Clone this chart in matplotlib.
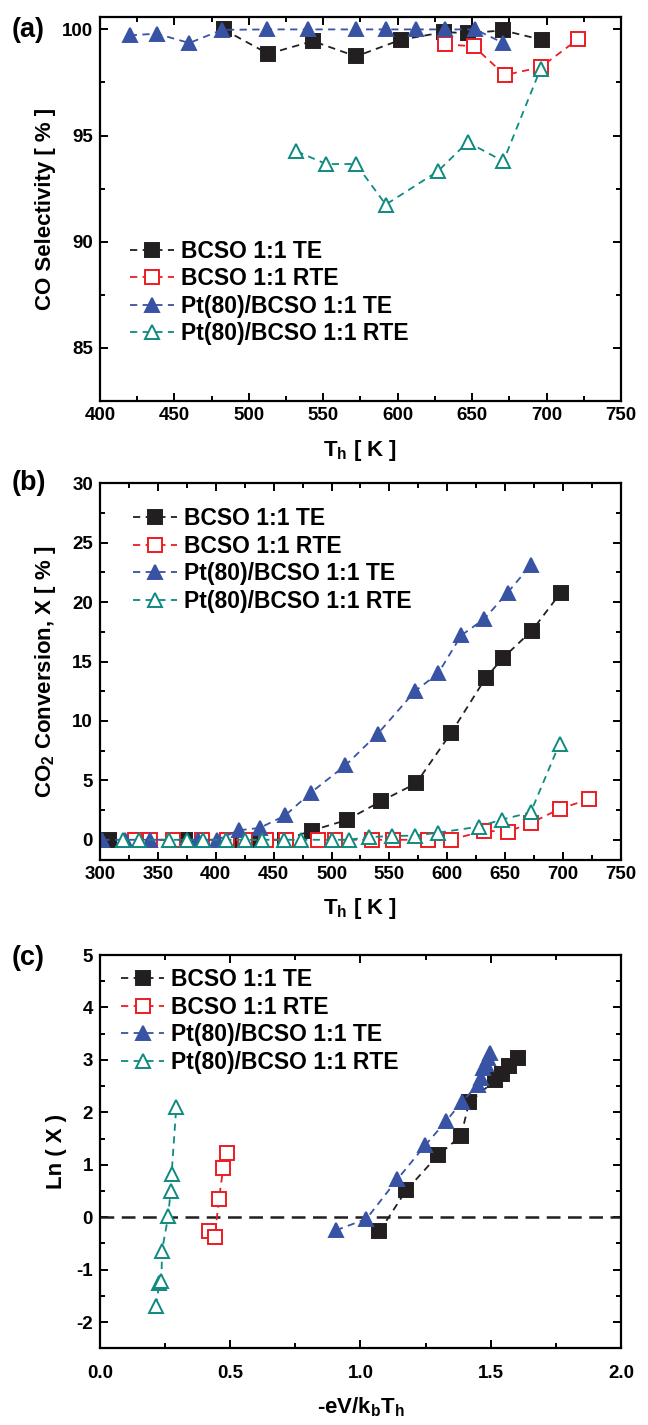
import numpy as np
import matplotlib
matplotlib.use("Agg")
import matplotlib.pyplot as plt
from matplotlib.ticker import MultipleLocator, FormatStrFormatter

plt.rcParams['font.family'] = ['Liberation Sans', 'DejaVu Sans']
plt.rcParams['font.weight'] = 'bold'
plt.rcParams['axes.labelweight'] = 'bold'
plt.rcParams['axes.unicode_minus'] = False
plt.rcParams['mathtext.fontset'] = 'custom'
plt.rcParams['mathtext.bf'] = 'Liberation Sans:bold'
plt.rcParams['mathtext.rm'] = 'Liberation Sans:bold'
plt.rcParams['mathtext.default'] = 'bf'

labels = ['BCSO 1:1 TE', 'BCSO 1:1 RTE', 'Pt(80)/BCSO 1:1 TE', 'Pt(80)/BCSO 1:1 RTE']
colors = ['#231f20', '#ed1c24', '#3953a4', '#0e8a80']
markers = ['s', 's', '^', '^']
filled = [True, False, True, False]

# (a) CO selectivity
a_T_te = [483, 513, 543, 572, 602, 631, 647, 671, 697]
a_S_te = [100.0, 98.85, 99.45, 98.73, 99.51, 99.87, 99.83, 99.95, 99.51]
a_T_rte = [632, 651, 672, 696, 721]
a_S_rte = [99.29, 99.21, 97.85, 98.22, 99.53]
a_T_pt_te = [420, 438, 460, 482, 512, 540, 572, 592, 612, 632, 652, 671]
a_S_pt_te = [99.72, 99.80, 99.36, 99.98, 100.0, 100.0, 100.0, 100.0, 100.0, 100.0, 100.0, 99.36]
a_T_pt_rte = [532, 552, 572, 592, 627, 647, 671, 696]
a_S_pt_rte = [94.26, 93.66, 93.66, 91.75, 93.32, 94.69, 93.79, 98.15]

# (b) CO2 conversion
b_T_te = [308, 333, 373, 413, 438, 460, 483, 513, 543, 573, 603, 633, 648, 673, 698]
b_X_te = [0, 0, 0, 0, 0, 0, 0.78, 1.66, 3.26, 4.75, 8.96, 13.6, 15.3, 17.6, 20.8]
b_T_rte = [330, 343, 363, 388, 410, 425, 443, 461, 488, 503, 535, 553, 583, 603,
           632, 652, 672, 697, 722]
b_X_rte = [0, 0, 0, 0, 0, 0, 0, 0, 0, 0, 0, 0, 0, 0, 0.76, 0.68, 1.4, 2.6, 3.4]
b_T_pt_te = [302, 322, 343, 385, 401, 420, 438, 460, 482, 512, 540, 572, 592,
             612, 632, 652, 672]
b_X_pt_te = [0, 0, 0, 0, 0, 0.8, 1.0, 2.05, 3.96, 6.26, 8.93, 12.5, 14.0,
             17.2, 18.6, 20.8, 23.1]
b_T_pt_rte = [320, 334, 360, 375, 389, 409, 425, 440, 459, 474, 500, 515,
              532, 552, 572, 592, 627, 647, 672, 697]
b_X_pt_rte = [0, 0, 0, 0, 0, 0, 0, 0, 0, 0, 0, 0,
              0.22, 0.32, 0.35, 0.6, 1.1, 1.7, 2.3, 8.1]

# (c) Ln(X) vs -eV/kbTh
c_x_te = [1.073, 1.175, 1.297, 1.386, 1.417, 1.516, 1.545, 1.571, 1.604]
c_y_te = [-0.27, 0.51, 1.18, 1.55, 2.19, 2.61, 2.73, 2.88, 3.04]
c_x_rte = [0.418, 0.440, 0.457, 0.473, 0.486]
c_y_rte = [-0.27, -0.38, 0.35, 0.94, 1.23]
c_x_pt_te = [0.906, 1.023, 1.141, 1.248, 1.330, 1.389, 1.452, 1.462, 1.472, 1.482, 1.490, 1.497]
c_y_pt_te = [-0.25, -0.03, 0.72, 1.37, 1.84, 2.20, 2.53, 2.65, 2.84, 2.92, 3.03, 3.14]
c_x_pt_rte = [0.215, 0.228, 0.236, 0.238, 0.262, 0.271, 0.275, 0.293]
c_y_pt_rte = [-1.69, -1.25, -1.21, -0.64, 0.02, 0.50, 0.83, 2.11]


def draw(ax, xs, ys):
    for i in range(4):
        ax.plot(xs[i], ys[i], ls=(0, (4, 3)), lw=1.3, color=colors[i],
                marker=markers[i], ms=9.5 if markers[i] == 's' else 10.5,
                mfc=colors[i] if filled[i] else 'white', mec=colors[i],
                mew=1.4, label=labels[i])


def style(ax, xmaj, xmin, ymaj, ymin, fs=13.5, xpad=4):
    ax.xaxis.set_major_locator(MultipleLocator(xmaj))
    ax.xaxis.set_minor_locator(MultipleLocator(xmin))
    ax.yaxis.set_major_locator(MultipleLocator(ymaj))
    ax.yaxis.set_minor_locator(MultipleLocator(ymin))
    ax.tick_params(which='both', direction='in', top=True, right=True, width=1.4)
    ax.tick_params(which='major', length=6)
    ax.tick_params(which='minor', length=3.5)
    ax.tick_params(axis='x', labelsize=fs, pad=xpad)
    ax.tick_params(axis='y', labelsize=fs, pad=5)
    for s in ax.spines.values():
        s.set_linewidth(1.6)
    for lbl in ax.get_xticklabels() + ax.get_yticklabels():
        lbl.set_fontweight('bold')


def legend(ax, x, y):
    ax.legend(loc='upper left', bbox_to_anchor=(x, y), frameon=False,
              borderaxespad=0, borderpad=0, handlelength=1.9, handletextpad=0.3,
              labelspacing=0.2, prop={'weight': 'bold', 'size': 16.5})


fig = plt.figure(figsize=(6.48, 14.25), dpi=100)
L, W = 0.1543, 0.804

ax1 = fig.add_axes([L, 0.7186, W, 0.2697])
draw(ax1, [a_T_te, a_T_rte, a_T_pt_te, a_T_pt_rte],
     [a_S_te, a_S_rte, a_S_pt_te, a_S_pt_rte])
ax1.set_xlim(400, 750)
ax1.set_ylim(82.5, 100.6)
style(ax1, 50, 25, 5, 2.5)
ax1.set_xlabel(r'T$_h$ [ K ]', fontsize=16)
ax1.set_ylabel('CO Selectivity [ % ]', fontsize=16)
ax1.xaxis.set_label_coords(0.5, -0.095)
ax1.yaxis.set_label_coords(-0.085, 0.5)
legend(ax1, 0.058, 0.42)

ax2 = fig.add_axes([L, 0.3965, W, 0.2643])
draw(ax2, [b_T_te, b_T_rte, b_T_pt_te, b_T_pt_rte],
     [b_X_te, b_X_rte, b_X_pt_te, b_X_pt_rte])
ax2.set_xlim(300, 750)
ax2.set_ylim(-1.7, 30)
style(ax2, 50, 25, 5, 2.5)
ax2.set_xlabel(r'T$_h$ [ K ]', fontsize=16)
ax2.set_ylabel(r'CO$_2$ Conversion, X [ % ]', fontsize=16)
ax2.xaxis.set_label_coords(0.5, -0.095)
ax2.yaxis.set_label_coords(-0.08, 0.5)
legend(ax2, 0.064, 0.937)

ax3 = fig.add_axes([L, 0.0538, W, 0.2760])
ax3.axhline(0, color='#231f20', lw=1.8, ls=(0, (5.5, 3)))
draw(ax3, [c_x_te, c_x_rte, c_x_pt_te, c_x_pt_rte],
     [c_y_te, c_y_rte, c_y_pt_te, c_y_pt_rte])
ax3.set_xlim(0, 2.0)
ax3.set_ylim(-2.5, 5)
ax3.xaxis.set_major_formatter(FormatStrFormatter('%.1f'))
style(ax3, 0.5, 0.25, 1, 0.5, fs=13.5, xpad=12)
ax3.set_xlabel(r'-eV/k$_b$T$_h$', fontsize=16)
ax3.set_ylabel('Ln ( X )', fontsize=16)
ax3.xaxis.set_label_coords(0.5, -0.12)
ax3.yaxis.set_label_coords(-0.064, 0.5)
legend(ax3, 0.04, 0.967)

fig.text(0.018, 0.979, '(a)', fontsize=19.5, weight='bold', va='center')
fig.text(0.018, 0.661, '(b)', fontsize=19.5, weight='bold', va='center')
fig.text(0.018, 0.328, '(c)', fontsize=19.5, weight='bold', va='center')

fig.savefig('out.png', dpi=100)
